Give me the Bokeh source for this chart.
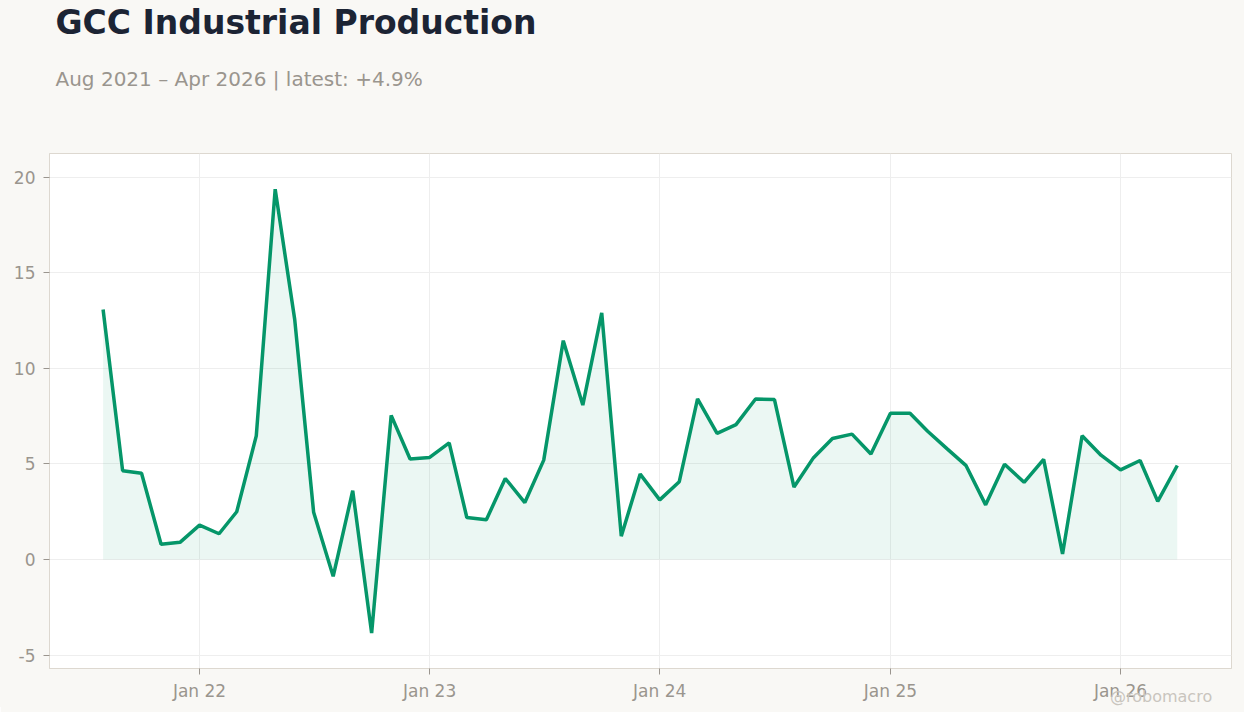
import pandas as pd
from bokeh.plotting import figure, ColumnDataSource
from bokeh.models import Range1d, FixedTicker, DatetimeTickFormatter, Title, Div
from bokeh.layouts import column
from bokeh.embed import file_html
from bokeh.resources import INLINE

# GCC industrial production, % y/y, monthly Aug 2021 - Apr 2026
months = pd.date_range("2021-08-01", "2026-04-01", freq="MS")
values = [
    13.08, 4.65, 4.51, 0.80, 0.90,                                            # 2021
    1.80, 1.35, 2.50, 6.47, 19.37, 12.55, 2.47, -0.88, 3.60, -3.85, 7.54, 5.26,  # 2022
    5.34, 6.10, 2.20, 2.08, 4.24, 2.98, 5.20, 11.45, 8.08, 12.90, 1.22, 4.47,    # 2023
    3.12, 4.07, 8.40, 6.60, 7.06, 8.40, 8.37, 3.79, 5.33, 6.33, 6.56, 5.52,      # 2024
    7.65, 7.65, 6.71, 5.79, 4.91, 2.86, 4.98, 4.04, 5.24, 0.29, 6.48, 5.46,      # 2025
    4.69, 5.18, 3.04, 4.92,                                                   # 2026
]
year_ticks = ["2022-01-01", "2023-01-01", "2024-01-01", "2025-01-01", "2026-01-01"]
y_ticks = [-5, 0, 5, 10, 15, 20]

title_txt = "GCC Industrial Production"
subtitle_txt = "Aug 2021 – Apr 2026 | latest: +4.9%"
watermark_txt = "@robomacro"

GREEN = "#059669"
BG = "#f9f8f5"
GREY = "#9a958e"
EDGE = "#ddd8d0"


def ms(d):
    return pd.Timestamp(d).value / 1e6


source = ColumnDataSource(data=dict(date=months, val=values))

p = figure(width=1244, height=712, x_axis_type="datetime",
           x_range=Range1d(ms("2021-05-08"), ms("2026-06-26")),
           y_range=Range1d(-5.70, 21.24),
           output_backend="svg", toolbar_location=None, title=None,
           min_border_left=49, min_border_right=13, min_border_bottom=44, min_border_top=0)

p.background_fill_color = "white"
p.border_fill_color = BG
p.outline_line_color = EDGE
p.outline_line_width = 1

# titles, closest to the plot first: spacer, subtitle, title
p.add_layout(Title(text=" ", text_font_size="2px", standoff=35), "above")
p.add_layout(Title(text=subtitle_txt, text_font="DejaVu Sans", text_font_size="20px",
                   text_font_style="normal", text_color=GREY, align="left",
                   offset=6, standoff=47), "above")
p.add_layout(Title(text=title_txt, text_font="DejaVu Sans", text_font_size="33px",
                   text_font_style="bold", text_color="#1c2434", align="left",
                   offset=6, standoff=0), "above")

# area + line
p.varea(x="date", y1=0, y2="val", source=source, fill_color=GREEN, fill_alpha=0.08)
p.line(x="date", y="val", source=source, line_color=GREEN, line_width=3.5)

# axes
p.xaxis.ticker = FixedTicker(ticks=[ms(d) for d in year_ticks])
fmt = "%b %y"
p.xaxis.formatter = DatetimeTickFormatter(years=fmt, months=fmt, days=fmt, hours=fmt)
p.yaxis.ticker = FixedTicker(ticks=y_ticks)
p.yaxis.major_label_overrides = {t: str(t) for t in y_ticks}

for ax in (p.xaxis, p.yaxis):
    ax.axis_line_color = EDGE
    ax.major_tick_line_color = GREY
    ax.major_tick_out = 6
    ax.major_tick_in = 0
    ax.minor_tick_line_color = None
    ax.major_label_text_color = GREY
    ax.major_label_text_font = "DejaVu Sans"
    ax.major_label_text_font_size = "17px"
p.yaxis.major_label_standoff = 8
p.xaxis.major_label_standoff = 6

p.xgrid.ticker = p.xaxis.ticker
p.grid.grid_line_color = "#eeeeee"
p.grid.grid_line_width = 1

# watermark, pulled up over the bottom-right corner of the figure
mark = Div(text=watermark_txt, width=120, height=20, margin=(-25, 0, 0, 1110),
           styles={"color": "#c9c5be", "font-family": "DejaVu Sans", "font-size": "16px",
                   "line-height": "20px"})

layout = column(p, mark, spacing=0)
layout.styles = {"background-color": BG}

open("out.html", "w").write(file_html(layout, INLINE))
